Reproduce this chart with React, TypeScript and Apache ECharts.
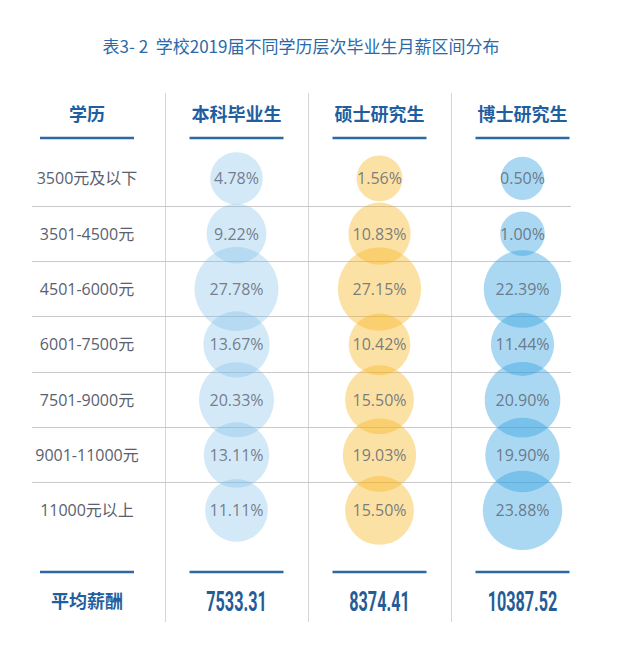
import React, { useEffect, useRef } from "react";
import * as echarts from "echarts";

const titleText = "表3- 2  学校2019届不同学历层次毕业生月薪区间分布";
const headerLabel = "学历";
const footerLabel = "平均薪酬";
const degrees = ["本科毕业生", "硕士研究生", "博士研究生"];
const ranges = [
  "3500元及以下",
  "3501-4500元",
  "4501-6000元",
  "6001-7500元",
  "7501-9000元",
  "9001-11000元",
  "11000元以上",
];
const bachelor = [4.78, 9.22, 27.78, 13.67, 20.33, 13.11, 11.11];
const master = [1.56, 10.83, 27.15, 10.42, 15.5, 19.03, 15.5];
const doctor = [0.5, 1.0, 22.39, 11.44, 20.9, 19.9, 23.88];
const averages = [7533.31, 8374.41, 10387.52];

// layout
const W = 640;
const H = 663;
const GRID_LEFT = 165;
const COL_W = 143;
const TOP = 150.7;
const ROW_H = 55.34;
const LABEL_COL_X = 87;
const TABLE_LEFT = 32;
const TABLE_RIGHT = 571;

const BLUE = "#1f5f9f";
const LINE_BLUE = "#2e69a3";
const GRAY_TEXT = "#596170";
const CJK = "'Noto Sans CJK SC', sans-serif";
const LATIN = "'Open Sans', 'Noto Sans CJK SC', sans-serif";

const colors = [
  "rgba(125,191,232,0.42)",
  "rgba(247,179,31,0.5)",
  "rgba(50,160,224,0.52)",
];
const seriesValues = [bachelor, master, doctor];

const bubbleSize = (v: number) => 41 + 3.55 * Math.pow(v, 0.75);

export default function App() {
  const ref = useRef<HTMLDivElement>(null);
  useEffect(() => {
    if (!ref.current) return;
    const chart = echarts.init(ref.current, null, { renderer: "svg" });
    const colCenters = [LABEL_COL_X, ...degrees.map((_, i) => GRID_LEFT + COL_W * (i + 0.5))];
    const graphic: any[] = [
      {
        type: "text",
        x: 301,
        y: 45,
        style: {
          text: titleText,
          fill: "#2a6aab",
          font: `17px ${CJK}`,
          textAlign: "center",
          textVerticalAlign: "middle",
        },
      },
      {
        type: "text",
        x: LABEL_COL_X,
        y: 113,
        style: {
          text: headerLabel,
          fill: BLUE,
          font: `bold 18px ${CJK}`,
          textAlign: "center",
          textVerticalAlign: "middle",
        },
      },
      {
        type: "text",
        x: LABEL_COL_X,
        y: 600,
        style: {
          text: footerLabel,
          fill: BLUE,
          font: `bold 18px ${CJK}`,
          textAlign: "center",
          textVerticalAlign: "middle",
        },
      },
    ];
    colCenters.forEach((cx) => {
      [138, 572].forEach((y) => {
        graphic.push({
          type: "line",
          shape: { x1: cx - 47, y1: y, x2: cx + 47, y2: y },
          style: { stroke: LINE_BLUE, lineWidth: 2.5 },
        });
      });
    });
    for (let k = 0; k < degrees.length; k++) {
      const x = GRID_LEFT + COL_W * k + 0.5;
      graphic.push({
        type: "line",
        shape: { x1: x, y1: 93, x2: x, y2: 622 },
        style: { stroke: "#d6d6d6", lineWidth: 1 },
      });
    }
    averages.forEach((a, i) => {
      graphic.push({
        type: "text",
        x: colCenters[i + 1],
        y: 601,
        scaleX: 0.6,
        style: {
          text: a.toFixed(2),
          fill: "#255c96",
          font: "bold 27px Roboto, sans-serif",
          textAlign: "center",
          textVerticalAlign: "middle",
        },
      });
    });

    chart.setOption({
      animation: false,
      backgroundColor: "#ffffff",
      grid: [
        {
          left: GRID_LEFT,
          width: COL_W * 3,
          top: TOP,
          height: ROW_H * 7,
        },
        {
          left: TABLE_LEFT,
          width: TABLE_RIGHT - TABLE_LEFT,
          top: TOP,
          height: ROW_H * 7,
        },
      ],
      xAxis: [
        {
          gridIndex: 0,
          type: "category",
          data: degrees,
          position: "top",
          axisLine: { show: false },
          axisTick: { show: false },
          splitLine: { show: false },
          axisLabel: {
            interval: 0,
            margin: 29,
            color: BLUE,
            fontSize: 18,
            fontWeight: "bold",
            fontFamily: CJK,
            lineHeight: 18,
          },
        },
        {
          gridIndex: 1,
          type: "value",
          show: false,
          min: 0,
          max: 1,
        },
      ],
      yAxis: [
        {
          gridIndex: 0,
          type: "category",
          data: ranges,
          inverse: true,
          show: false,
        },
        {
          gridIndex: 1,
          type: "category",
          data: ranges,
          inverse: true,
          axisLine: { show: false },
          axisTick: { show: false },
          splitLine: {
            show: true,
            interval: 0,
            showMinLine: false,
            showMaxLine: false,
            lineStyle: { color: "#c9c9cc", width: 1 },
          },
          axisLabel: {
            interval: 0,
            inside: true,
            align: "center",
            margin: LABEL_COL_X - TABLE_LEFT,
            color: GRAY_TEXT,
            fontSize: 16,
            fontFamily: LATIN,
          },
        },
      ],
      series: degrees.map((d, i) => ({
        type: "scatter",
        name: d,
        xAxisIndex: 0,
        yAxisIndex: 0,
        symbol: "circle",
        symbolSize: (val: any) => bubbleSize(val[2]),
        itemStyle: { color: colors[i] },
        label: {
          show: true,
          position: "inside",
          formatter: (p: any) => p.value[2].toFixed(2) + "%",
          color: GRAY_TEXT,
          fontSize: 16,
          fontFamily: LATIN,
        },
        emphasis: { disabled: true },
        data: ranges.map((r, j) => [d, r, seriesValues[i][j]]),
      })),
      graphic,
    });
    return () => chart.dispose();
  }, []);
  return (
    <div
      ref={ref}
      style={{ position: "fixed", left: 0, top: 0, width: W, height: H }}
    />
  );
}
